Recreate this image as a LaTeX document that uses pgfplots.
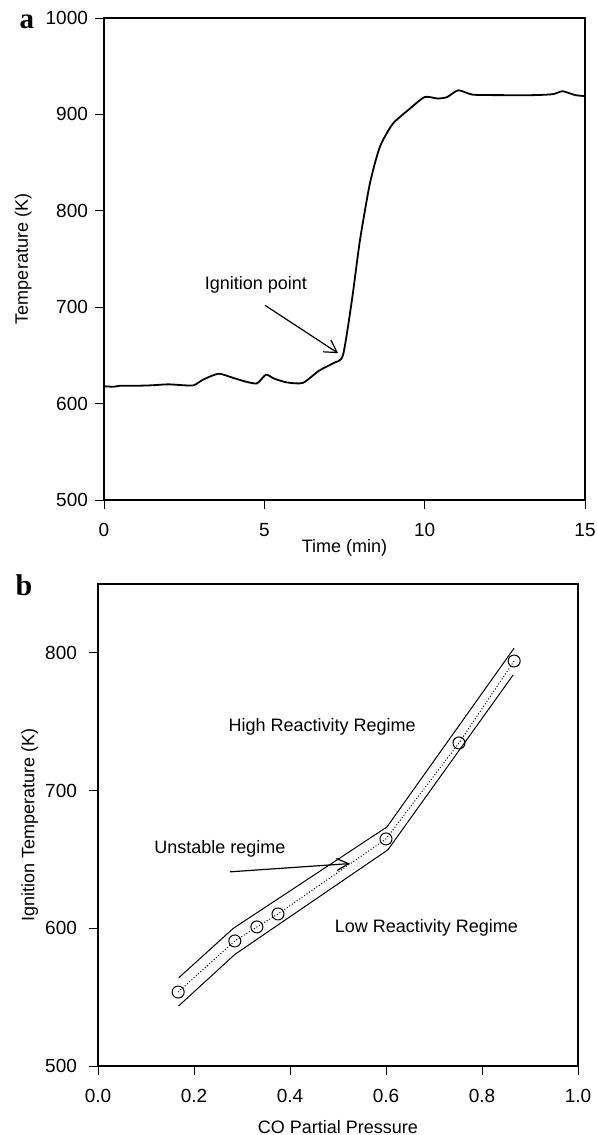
\documentclass[border=0pt]{standalone}
\usepackage{pgfplots}
\pgfplotsset{compat=1.18}
\usepackage{fontspec}
\setmainfont{Liberation Sans}
\newfontfamily\timesb{Liberation Serif}
\usetikzlibrary{arrows.meta}
\begin{document}
\begin{tikzpicture}
\path[use as bounding box] (0,0) rectangle (298.5pt,-567.5pt);
\pgfplotsset{
  every axis/.append style={
    scale only axis,
    axis line style={line width=0.6pt},
    tick align=outside,
    tick pos=left,
    major tick length=4.5pt,
    tick style={line width=0.5pt,black},
    ticklabel style={font=\fontsize{9.5}{10}\selectfont},
    xticklabel style={yshift=-3.5pt},
    label style={font=\fontsize{9}{10}\selectfont},
    /pgf/number format/assume math mode=true,
    /pgf/number format/1000 sep={},
    clip=false,
  }
}
% panel a
\begin{axis}[
  at={(52pt,-250pt)}, anchor=south west,
  width=240.5pt, height=241pt,
  xmin=0, xmax=15, ymin=500, ymax=1000,
  xtick={0,5,10,15}, ytick={500,600,...,1000},
  xlabel={Time (min)}, ylabel={Temperature (K)},
  xlabel style={at={(axis description cs:0.5,-0.0996)}, anchor=center},
  ylabel style={at={(axis description cs:-0.168,0.5)}, anchor=center, rotate=0},
]
\addplot[black, line width=0.9pt, smooth, tension=0.4] coordinates {
(0,618) (0.3,617.5) (0.5,618.5) (1,618.5) (1.5,619) (2,620) (2.5,619) (2.8,619)
(3.1,625) (3.57,631) (4.0,627) (4.4,623) (4.77,621) (5.05,630) (5.3,626) (5.7,622)
(6.2,621.5) (6.7,634) (7.15,642) (7.45,650) (7.73,707) (7.98,769) (8.29,828)
(8.6,866) (9.0,890) (9.54,906) (10.0,918) (10.4,916.5) (10.7,918) (11.05,925)
(11.5,920.5) (12.35,920) (13.4,920) (14.0,921) (14.3,924) (14.7,920) (15,919)
};
\node[font=\fontsize{9}{10}\selectfont] at (axis cs:4.74,722.8) {Ignition point};
\draw[-{Straight Barb[length=6pt,width=7pt]}, line width=0.6pt] (axis cs:5.02,702) -- (axis cs:7.3,652.3);
\end{axis}
\node[font=\timesb\bfseries\fontsize{14.5}{15}\selectfont, anchor=base] at (13.5pt,-14pt) {a};
% panel b
\begin{axis}[
  at={(49pt,-533pt)}, anchor=south west,
  width=240pt, height=241pt,
  xmin=0, xmax=1, ymin=500, ymax=850,
  xtick={0,0.2,...,1.0}, ytick={500,600,700,800},
  xticklabel style={/pgf/number format/.cd, fixed, fixed zerofill, precision=1},
  yticklabel style={xshift=-2.5pt},
  xlabel={CO Partial Pressure}, ylabel={Ignition Temperature (K)},
  xlabel style={at={(axis description cs:0.5,-0.127)}, anchor=center},
  ylabel style={at={(axis description cs:-0.142,0.5)}, anchor=center},
]
\addplot[black, line width=0.5pt] coordinates {(0.168,564) (0.282,600) (0.602,673.6) (0.867,803.5)};
\addplot[black, line width=0.5pt] coordinates {(0.168,543.6) (0.285,581) (0.604,657) (0.865,784)};
\addplot[black, line width=0.5pt, densely dotted, mark=o, mark size=3pt, mark options={solid, line width=0.5pt}] coordinates {
(0.167,553.7) (0.285,590.8) (0.331,601) (0.375,610.4) (0.6,664.9) (0.752,734.6) (0.867,794.1)};
\node[font=\fontsize{9}{10}\selectfont] at (axis cs:0.467,746) {High Reactivity Regime};
\node[font=\fontsize{9}{10}\selectfont] at (axis cs:0.684,600.2) {Low Reactivity Regime};
\node[font=\fontsize{9}{10}\selectfont] at (axis cs:0.254,657.6) {Unstable regime};
\draw[-{Straight Barb[length=6pt,width=6pt]}, line width=0.6pt] (axis cs:0.275,641) -- (axis cs:0.525,647);
\end{axis}
\node[font=\timesb\bfseries\fontsize{15}{16}\selectfont, anchor=base] at (12pt,-297.5pt) {b};
\end{tikzpicture}
\end{document}
